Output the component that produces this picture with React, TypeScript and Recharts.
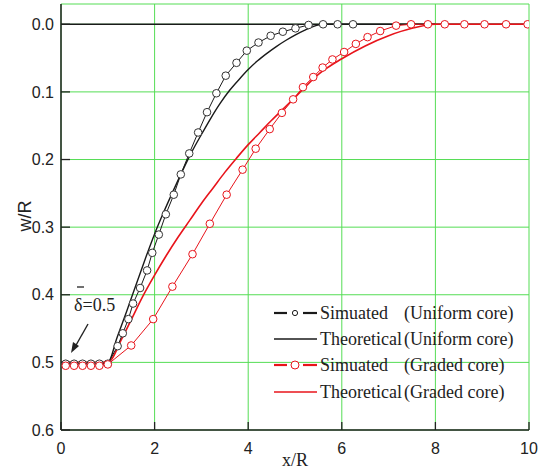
import {
  ComposedChart,
  Line,
  XAxis,
  YAxis,
  CartesianGrid,
  ReferenceLine,
} from "recharts";

// simulated, uniform core
const uniSimX = [0.1, 0.28, 0.46, 0.64, 0.82, 1.0, 1.21, 1.32, 1.44, 1.54, 1.69, 1.84, 1.95, 2.09, 2.24, 2.41, 2.56, 2.74, 2.93, 3.12, 3.32, 3.52, 3.75, 3.97, 4.22, 4.48, 4.74, 5.01, 5.29, 5.6, 5.91, 6.24];
const uniSimY = [0.502, 0.502, 0.502, 0.502, 0.502, 0.502, 0.476, 0.457, 0.436, 0.413, 0.39, 0.364, 0.338, 0.311, 0.281, 0.252, 0.222, 0.191, 0.16, 0.13, 0.102, 0.076, 0.057, 0.039, 0.027, 0.017, 0.011, 0.006, 0.001, 0, 0, 0];

// theoretical, uniform core
const uniThX = [0, 1.0, 1.2, 1.4, 1.6, 1.8, 2.0, 2.2, 2.4, 2.6, 2.8, 3.0, 3.2, 3.4, 3.6, 3.8, 4.0, 4.2, 4.4, 4.6, 4.8, 5.0, 5.2, 5.4, 5.6, 8, 10];
const uniThY = [0.5, 0.5, 0.463, 0.425, 0.386, 0.347, 0.31, 0.277, 0.246, 0.216, 0.188, 0.163, 0.139, 0.117, 0.098, 0.082, 0.067, 0.054, 0.043, 0.033, 0.024, 0.016, 0.009, 0.003, 0, 0, 0];

// simulated, graded core
const gradSimX = [0.1, 0.28, 0.46, 0.64, 0.82, 1.0, 1.5, 1.97, 2.38, 2.81, 3.18, 3.54, 3.88, 4.16, 4.46, 4.72, 4.96, 5.17, 5.39, 5.59, 5.8, 6.05, 6.3, 6.55, 6.82, 7.16, 7.48, 7.84, 8.2, 8.62, 9.05, 9.51, 9.97];
const gradSimY = [0.505, 0.505, 0.505, 0.505, 0.505, 0.503, 0.475, 0.436, 0.388, 0.34, 0.295, 0.252, 0.215, 0.184, 0.155, 0.131, 0.111, 0.093, 0.078, 0.064, 0.052, 0.041, 0.029, 0.019, 0.01, 0.002, 0, 0, 0, 0, 0, 0, 0];

// theoretical, graded core
const gradThX = [0, 1.0, 1.3, 1.5, 1.75, 2.0, 2.25, 2.5, 2.75, 3.0, 3.25, 3.5, 3.75, 4.0, 4.25, 4.5, 4.75, 5.0, 5.5, 6.0, 6.5, 7.0, 7.5, 8.0, 10];
const gradThY = [0.5, 0.5, 0.465, 0.437, 0.402, 0.371, 0.342, 0.315, 0.29, 0.265, 0.242, 0.219, 0.198, 0.178, 0.16, 0.142, 0.125, 0.108, 0.074, 0.051, 0.032, 0.017, 0.006, 0, 0];

const xTicks = [0, 2, 4, 6, 8, 10];
const yTicks = [0, 0.1, 0.2, 0.3, 0.4, 0.5, 0.6];

const pts = (xs: number[], ys: number[]) => xs.map((x, i) => ({ x, y: ys[i] }));

const BLACK = "#1a1a1a";
const RED = "#e8141b";
const GRID = "#55dd55";
const SERIF = '"Liberation Serif", "Times New Roman", Times, "DejaVu Serif", serif';
const SANS = '"Liberation Sans", Arial, Helvetica, sans-serif';

const tickStyle = { fill: "#222", fontSize: 16, style: { fontFamily: SANS } };
const serifText = { fontFamily: SERIF, fontSize: 18 };

function Overlay() {
  const rows = [
    { y: 313, name: "Simuated", kind: "sim", color: BLACK, r: 2.6, core: "(Uniform core)" },
    { y: 339, name: "Theoretical", kind: "th", color: BLACK, r: 0, core: "(Uniform core)" },
    { y: 365, name: "Simuated", kind: "sim", color: RED, r: 4, core: "(Graded core)" },
    { y: 392, name: "Theoretical", kind: "th", color: RED, r: 0, core: "(Graded core)" },
  ];
  return (
    <svg
      width={546}
      height={472}
      style={{ position: "absolute", left: 0, top: 0, pointerEvents: "none" }}
    >
      <text
        x={0}
        y={0}
        transform="translate(25,216) rotate(-90)"
        textAnchor="middle"
        dominantBaseline="central"
        fill="#222"
        style={{ fontFamily: SANS, fontSize: 18 }}
      >
        w/R
      </text>

      {/* delta annotation */}
      <line x1={77} y1={287} x2={84} y2={287} stroke="#222" strokeWidth={1.3} />
      <text x={74} y={311} fill="#222" style={serifText}>
        δ=0.5
      </text>
      <line x1={88} y1={324} x2={75} y2={347} stroke="#222" strokeWidth={1.4} />
      <polygon points="71,353 73,342 79,346" fill="#222" />

      {rows.map((r) => (
        <g key={r.y + r.name}>
          {r.kind === "sim" ? (
            <>
              <line x1={274} y1={r.y} x2={287} y2={r.y} stroke={r.color} strokeWidth={2.2} />
              <line x1={303} y1={r.y} x2={317} y2={r.y} stroke={r.color} strokeWidth={2.2} />
              <circle cx={295} cy={r.y} r={r.r} fill="#fff" stroke={r.color} strokeWidth={1} />
            </>
          ) : (
            <line x1={274} y1={r.y} x2={317} y2={r.y} stroke={r.color} strokeWidth={1.3} />
          )}
          <text x={320} y={r.y + 6} fill="#222" style={serifText}>
            {r.name}
          </text>
          <text x={404} y={r.y + 6} fill="#222" style={serifText}>
            {r.core}
          </text>
        </g>
      ))}
    </svg>
  );
}

export default function App() {
  return (
    <div
      style={{
        position: "absolute",
        left: 0,
        top: 0,
        width: 546,
        height: 472,
        background: "#fff",
        fontFamily: SANS,
      }}
    >
      <ComposedChart width={546} height={472} margin={{ top: 4, right: 17, left: 0, bottom: 0 }}>
        <CartesianGrid stroke={GRID} strokeWidth={1} />
        <XAxis
          type="number"
          dataKey="x"
          domain={[0, 10]}
          ticks={xTicks}
          height={42}
          tickSize={-8}
          tickMargin={21}
          tick={tickStyle}
          axisLine={{ stroke: "#222", strokeWidth: 1.5 }}
          tickLine={{ stroke: "#222", strokeWidth: 1.3 }}
          allowDataOverflow
          label={{
            value: "x/R",
            position: "insideBottom",
            offset: 6,
            fill: "#222",
            style: { fontFamily: SERIF, fontSize: 18 },
          }}
        />
        <XAxis
          xAxisId="top"
          orientation="top"
          type="number"
          domain={[0, 10]}
          ticks={xTicks}
          height={0}
          tick={false}
          tickSize={-7}
          axisLine={{ stroke: "#222", strokeWidth: 1.5 }}
          tickLine={{ stroke: "#222", strokeWidth: 1.3 }}
        />
        <YAxis
          type="number"
          domain={[-0.03, 0.6]}
          reversed
          ticks={yTicks}
          width={61}
          tickSize={-9}
          tickMargin={16}
          tick={tickStyle}
          tickFormatter={(v: number) => v.toFixed(1)}
          axisLine={{ stroke: "#222", strokeWidth: 1.5 }}
          tickLine={{ stroke: "#222", strokeWidth: 1.3 }}
          allowDataOverflow
        />
        <YAxis
          yAxisId="right"
          orientation="right"
          type="number"
          domain={[-0.03, 0.6]}
          reversed
          ticks={yTicks}
          width={0}
          tick={false}
          tickSize={-7}
          axisLine={{ stroke: "#222", strokeWidth: 1.5 }}
          tickLine={{ stroke: "#222", strokeWidth: 1.3 }}
        />
        <ReferenceLine
          segment={[{ x: 0, y: 0 }, { x: 8, y: 0 }]}
          stroke={BLACK}
          strokeWidth={1.4}
        />
        <Line
          data={pts(uniThX, uniThY)}
          dataKey="y"
          type="monotone"
          stroke={BLACK}
          strokeWidth={1.4}
          dot={false}
          isAnimationActive={false}
        />
        <Line
          data={pts(gradThX, gradThY)}
          dataKey="y"
          type="monotone"
          stroke={RED}
          strokeWidth={1.6}
          dot={false}
          isAnimationActive={false}
        />
        <Line
          data={pts(uniSimX, uniSimY)}
          dataKey="y"
          type="linear"
          stroke={BLACK}
          strokeWidth={1}
          dot={{ r: 3.8, fill: "#fff", stroke: "#333", strokeWidth: 1 }}
          isAnimationActive={false}
        />
        <Line
          data={pts(gradSimX, gradSimY)}
          dataKey="y"
          type="linear"
          stroke={RED}
          strokeWidth={1}
          dot={{ r: 3.8, fill: "#fff", stroke: RED, strokeWidth: 1 }}
          isAnimationActive={false}
        />
      </ComposedChart>
      <Overlay />
    </div>
  );
}
